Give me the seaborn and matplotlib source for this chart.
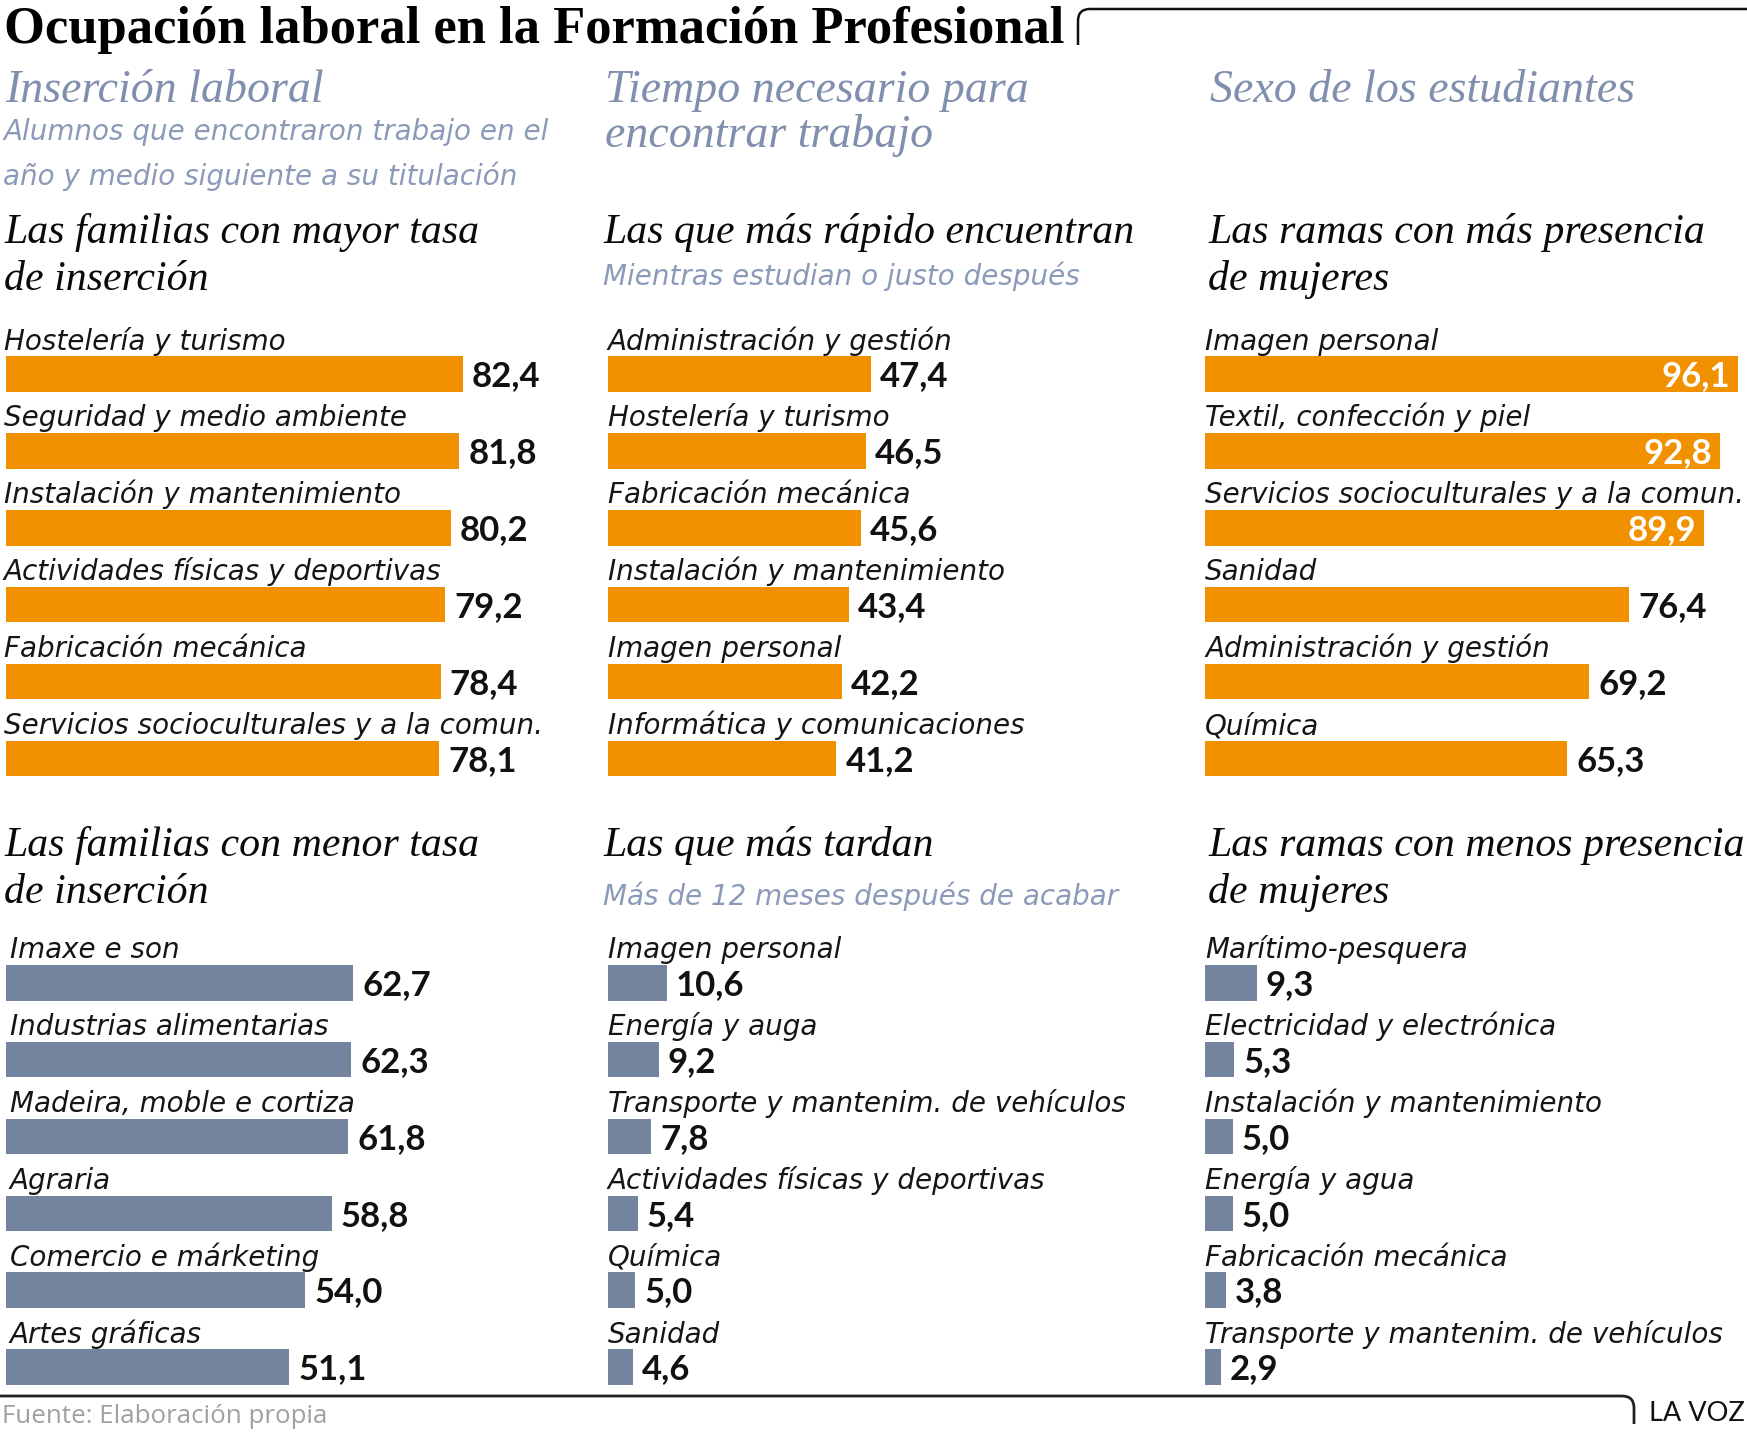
import matplotlib
matplotlib.use("Agg")
import matplotlib.pyplot as plt
import seaborn as sns
import pandas as pd
from matplotlib.transforms import offset_copy
from matplotlib.path import Path
from matplotlib.patches import PathPatch

# ---------------- data ----------------
top1_cats = ["Hostelería y turismo", "Seguridad y medio ambiente", "Instalación y mantenimiento",
             "Actividades físicas y deportivas", "Fabricación mecánica",
             "Servicios socioculturales y a la comun."]
top1_vals = [82.4, 81.8, 80.2, 79.2, 78.4, 78.1]

bot1_cats = ["Imaxe e son", "Industrias alimentarias", "Madeira, moble e cortiza", "Agraria",
             "Comercio e márketing", "Artes gráficas"]
bot1_vals = [62.7, 62.3, 61.8, 58.8, 54.0, 51.1]

top2_cats = ["Administración y gestión", "Hostelería y turismo", "Fabricación mecánica",
             "Instalación y mantenimiento", "Imagen personal", "Informática y comunicaciones"]
top2_vals = [47.4, 46.5, 45.6, 43.4, 42.2, 41.2]

bot2_cats = ["Imagen personal", "Energía y auga", "Transporte y mantenim. de vehículos",
             "Actividades físicas y deportivas", "Química", "Sanidad"]
bot2_vals = [10.6, 9.2, 7.8, 5.4, 5.0, 4.6]

top3_cats = ["Imagen personal", "Textil, confección y piel", "Servicios socioculturales y a la comun.",
             "Sanidad", "Administración y gestión", "Química"]
top3_vals = [96.1, 92.8, 89.9, 76.4, 69.2, 65.3]

bot3_cats = ["Marítimo-pesquera", "Electricidad y electrónica", "Instalación y mantenimiento",
             "Energía y agua", "Fabricación mecánica", "Transporte y mantenim. de vehículos"]
bot3_vals = [9.3, 5.3, 5.0, 5.0, 3.8, 2.9]

title = "Ocupación laboral en la Formación Profesional"
sections = ["Inserción laboral", "Tiempo necesario para\nencontrar trabajo", "Sexo de los estudiantes"]
col1_sub = ["Alumnos que encontraron trabajo en el", "año y medio siguiente a su titulación"]
heads_top = [["Las familias con mayor tasa", "de inserción"],
             ["Las que más rápido encuentran"],
             ["Las ramas con más presencia", "de mujeres"]]
heads_bot = [["Las familias con menor tasa", "de inserción"],
             ["Las que más tardan"],
             ["Las ramas con menos presencia", "de mujeres"]]
sub_top2 = "Mientras estudian o justo después"
sub_bot2 = "Más de 12 meses después de acabar"
source = "Fuente: Elaboración propia"
brand = "LA VOZ"

# ---------------- style ----------------
W, H, DPI = 1747, 1437, 100
ORANGE = "#F29100"
SLATE = "#74849F"
SEC = "#7F8FAD"
SUB = "#8A9AB8"

sns.set_theme(style="white")
plt.rcParams["font.family"] = ["Lato", "DejaVu Sans"]

fig = plt.figure(figsize=(W / DPI, H / DPI), dpi=DPI)
fig.patch.set_facecolor("white")

PX_PER_UNIT = 5.55
ROW = 76.9
BAR_H = 35.7
AX_W = 540
SERIF = ["Liberation Serif", "DejaVu Serif"]
SANS_I = ["DejaVu Sans"]
LBL_FS = 20.0
VAL_FS = 25.0


def fx(x):
    return x / W


def fy(y):
    return 1 - y / H


def ftext(x, y, s, **kw):
    fig.text(fx(x), fy(y), s, va="baseline", ha=kw.pop("ha", "left"), **kw)


def panel(x0, first_center, cats, vals, color, label_dx=0, inside_min=None):
    n = len(cats)
    ax_top = first_center - ROW / 2
    ax_h = ROW * n
    ax = fig.add_axes([fx(x0), fy(ax_top + ax_h), fx(AX_W), ax_h / H])
    df = pd.DataFrame({"cat": cats, "val": vals})
    sns.barplot(data=df, x="val", y="cat", orient="h", color=color, saturation=1,
                width=BAR_H / ROW, ax=ax, edgecolor="none")
    ax.set_xlim(0, AX_W / PX_PER_UNIT)
    ax.set_ylim(n - 0.5, -0.5)
    ax.set_axis_off()
    lab_tr = offset_copy(ax.transData, fig=fig, x=label_dx, y=BAR_H / 2 + 6.5, units="dots")
    out_tr = offset_copy(ax.transData, fig=fig, x=9, y=-12.2, units="dots")
    in_tr = offset_copy(ax.transData, fig=fig, x=-8, y=-12.2, units="dots")
    for i, (c, v) in enumerate(zip(cats, vals)):
        ax.text(0, i, c, transform=lab_tr, va="baseline", ha="left", fontsize=LBL_FS,
                family=SANS_I, fontstyle="italic", color="#151515", clip_on=False)
        s = f"{v:.1f}".replace(".", ",")
        if inside_min is not None and v >= inside_min:
            ax.text(v, i, s, transform=in_tr, va="baseline", ha="right", fontsize=VAL_FS,
                    fontweight="bold", color="white", clip_on=False)
        else:
            ax.text(v, i, s, transform=out_tr, va="baseline", ha="left", fontsize=VAL_FS,
                    fontweight="bold", color="#111111", clip_on=False)
    return ax


COLX = [5.5, 607.7, 1205]
TOP_C = 373.9
BOT_C = 982.7

panel(COLX[0], TOP_C, top1_cats, top1_vals, ORANGE, label_dx=-2)
panel(COLX[1], TOP_C, top2_cats, top2_vals, ORANGE)
panel(COLX[2], TOP_C, top3_cats, top3_vals, ORANGE, inside_min=85)
panel(COLX[0], BOT_C, bot1_cats, bot1_vals, SLATE, label_dx=4)
panel(COLX[1], BOT_C, bot2_cats, bot2_vals, SLATE)
panel(COLX[2], BOT_C, bot3_cats, bot3_vals, SLATE)

# ---------------- texts ----------------
ftext(4, 43.5, title, family=SERIF, fontweight="bold", fontsize=37.9, color="#000000")

SEC_X = [5, 605, 1210]
for x, s in zip(SEC_X, sections):
    for k, line in enumerate(s.split("\n")):
        ftext(x, 102 + 45 * k, line, family=SERIF, fontstyle="italic", fontsize=33, color=SEC)

for k, line in enumerate(col1_sub):
    ftext(3, 140 + 45 * k, line, family=SANS_I, fontstyle="italic", fontsize=20, color=SUB)

HEAD_X = [4, 603, 1208]
HEAD_FS = 30.2
for x, lines in zip(HEAD_X, heads_top):
    for k, line in enumerate(lines):
        ftext(x, 243 + 47 * k, line, family=SERIF, fontstyle="italic", fontsize=HEAD_FS, color="#0a0a0a")
for x, lines in zip(HEAD_X, heads_bot):
    for k, line in enumerate(lines):
        ftext(x, 856 + 47 * k, line, family=SERIF, fontstyle="italic", fontsize=HEAD_FS, color="#0a0a0a")

ftext(603, 285, sub_top2, family=SANS_I, fontstyle="italic", fontsize=20, color=SUB)
ftext(603, 905, sub_bot2, family=SANS_I, fontstyle="italic", fontsize=20, color=SUB)

ftext(2, 1423, source, family=["Open Sans", "DejaVu Sans"], fontsize=18.6, color="#a0a0a0")
ftext(1745, 1421, brand, ha="right", fontsize=19.5, color="#111111")

# ---------------- rules ----------------
def fig_path(pts, codes, lw, color):
    verts = [(fx(x), fy(y)) for x, y in pts]
    patch = PathPatch(Path(verts, codes), transform=fig.transFigure, fill=False,
                      lw=lw, edgecolor=color, capstyle="butt", joinstyle="round")
    fig.add_artist(patch)


fig_path([(1078, 45), (1078, 21), (1078, 9), (1090, 9), (1747, 9)],
         [Path.MOVETO, Path.LINETO, Path.CURVE3, Path.CURVE3, Path.LINETO], 1.8, "#111111")
fig_path([(0, 1396), (1622, 1396), (1634, 1396), (1634, 1408), (1634, 1424)],
         [Path.MOVETO, Path.LINETO, Path.CURVE3, Path.CURVE3, Path.LINETO], 2.0, "#222222")

fig.savefig("out.png", dpi=DPI, facecolor="white")
